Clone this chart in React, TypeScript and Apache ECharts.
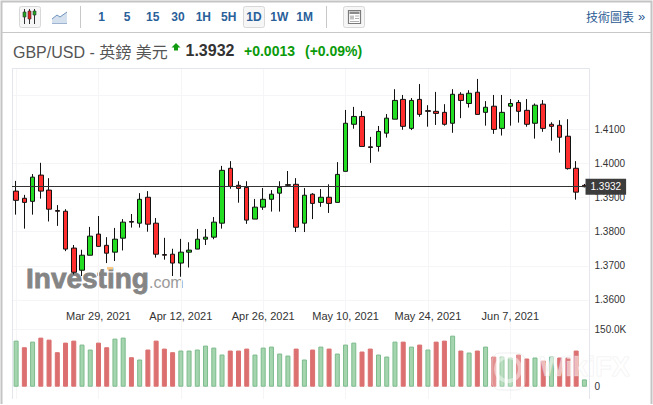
import React, { useEffect, useRef } from "react";
import * as echarts from "echarts";

const DATES = [
  "Mar 15, 2021","Mar 16, 2021","Mar 17, 2021","Mar 18, 2021","Mar 19, 2021",
  "Mar 22, 2021","Mar 23, 2021","Mar 24, 2021","Mar 25, 2021","Mar 26, 2021",
  "Mar 29, 2021","Mar 30, 2021","Mar 31, 2021","Apr 1, 2021","Apr 2, 2021",
  "Apr 5, 2021","Apr 6, 2021","Apr 7, 2021","Apr 8, 2021","Apr 9, 2021",
  "Apr 12, 2021","Apr 13, 2021","Apr 14, 2021","Apr 15, 2021","Apr 16, 2021",
  "Apr 19, 2021","Apr 20, 2021","Apr 21, 2021","Apr 22, 2021","Apr 23, 2021",
  "Apr 26, 2021","Apr 27, 2021","Apr 28, 2021","Apr 29, 2021","Apr 30, 2021",
  "May 3, 2021","May 4, 2021","May 5, 2021","May 6, 2021","May 7, 2021",
  "May 10, 2021","May 11, 2021","May 12, 2021","May 13, 2021","May 14, 2021",
  "May 17, 2021","May 18, 2021","May 19, 2021","May 20, 2021","May 21, 2021",
  "May 24, 2021","May 25, 2021","May 26, 2021","May 27, 2021","May 28, 2021",
  "May 31, 2021","Jun 1, 2021","Jun 2, 2021","Jun 3, 2021","Jun 4, 2021",
  "Jun 7, 2021","Jun 8, 2021","Jun 9, 2021","Jun 10, 2021","Jun 11, 2021",
  "Jun 14, 2021","Jun 15, 2021","Jun 16, 2021","Jun 17, 2021","Jun 18, 2021",
];

const OPENS = [
  1.3919,1.3898,1.3889,1.3966,1.3922,1.3862,1.3860,1.3752,1.3687,1.3731,
  1.3793,1.3760,1.3740,1.3781,1.3830,1.3825,1.3901,1.3825,1.3733,1.3734,
  1.3708,1.3740,1.3749,1.3778,1.3784,1.3825,1.3986,1.3936,1.3930,1.3837,
  1.3872,1.3895,1.3913,1.3938,1.3939,1.3825,1.3910,1.3886,1.3901,1.3886,
  1.3977,1.4115,1.4138,1.4049,1.4050,1.4089,1.4130,1.4188,1.4103,1.4188,
  1.4155,1.4153,1.4150,1.4118,1.4203,1.4176,1.4209,1.4150,1.4168,1.4103,
  1.4168,1.4179,1.4156,1.4118,1.4174,1.4115,1.4112,1.4080,1.3986,1.3936,
];
const CLOSES = [
  1.3892,1.3886,1.3960,1.3919,1.3866,1.3860,1.3749,1.3681,1.3731,1.3787,
  1.3757,1.3737,1.3778,1.3828,1.3828,1.3895,1.3822,1.3734,1.3731,1.3708,
  1.3740,1.3746,1.3778,1.3784,1.3828,1.3980,1.3933,1.3927,1.3834,1.3872,
  1.3895,1.3910,1.3930,1.3936,1.3813,1.3907,1.3883,1.3901,1.3883,1.3968,
  1.4118,1.4138,1.4050,1.4047,1.4094,1.4133,1.4185,1.4109,1.4185,1.4144,
  1.4153,1.4147,1.4115,1.4203,1.4185,1.4206,1.4144,1.4165,1.4100,1.4150,
  1.4176,1.4153,1.4115,1.4171,1.4103,1.4109,1.4077,1.3985,1.3916,1.3932,
];
const LOWS = [
  1.3850,1.3809,1.3850,1.3897,1.3830,1.3817,1.3743,1.3675,1.3670,1.3731,
  1.3756,1.3708,1.3714,1.3745,1.3812,1.3812,1.3800,1.3724,1.3718,1.3670,
  1.3668,1.3695,1.3749,1.3761,1.3778,1.3809,1.3926,1.3885,1.3823,1.3837,
  1.3864,1.3859,1.3859,1.3931,1.3799,1.3799,1.3837,1.3873,1.3855,1.3886,
  1.3977,1.4102,1.4050,1.4002,1.4035,1.4076,1.4130,1.4099,1.4098,1.4137,
  1.4108,1.4113,1.4111,1.4090,1.4133,1.4164,1.4144,1.4111,1.4087,1.4082,
  1.4111,1.4120,1.4108,1.4073,1.4093,1.4067,1.4032,1.3982,1.3894,1.3930,
];
const HIGHS = [
  1.3949,1.3908,1.3969,1.4002,1.3957,1.3878,1.3866,1.3761,1.3747,1.3814,
  1.3846,1.3784,1.3811,1.3837,1.3852,1.3913,1.3919,1.3840,1.3782,1.3750,
  1.3779,1.3769,1.3808,1.3808,1.3843,1.3993,1.4007,1.3948,1.3948,1.3896,
  1.3928,1.3922,1.3948,1.3978,1.3957,1.3928,1.3913,1.3925,1.3939,1.4004,
  1.4157,1.4166,1.4154,1.4078,1.4110,1.4145,1.4218,1.4201,1.4192,1.4233,
  1.4171,1.4210,1.4174,1.4218,1.4209,1.4215,1.4248,1.4183,1.4201,1.4201,
  1.4189,1.4186,1.4189,1.4176,1.4186,1.4121,1.4127,1.4130,1.4007,1.3940,
];
const VOLUMES_K = [
  119.8,102.6,117.2,127.6,122.4,89.7,114.6,119.8,109.5,96.6,
  114.6,102.6,125.0,127.6,76.7,70.7,96.6,119.8,99.1,89.7,
  94.0,94.0,96.6,106.9,101.7,83.6,94.0,94.0,99.1,83.6,
  101.7,104.3,86.2,81.0,99.1,70.7,96.6,104.3,99.1,86.2,
  109.5,114.6,91.4,99.1,83.6,78.4,117.2,117.2,104.3,109.5,
  96.6,117.2,119.8,132.7,94.0,88.8,94.0,104.3,78.4,78.4,
  75.9,83.6,73.3,75.9,68.1,78.4,75.9,75.9,94.0,19.0,
];
const VOLUME_UP = [
  1,0,1,0,0,0,0,0,1,1,
  0,0,1,1,0,1,0,0,0,0,
  1,1,1,1,1,1,0,0,0,1,
  1,1,1,1,0,1,0,1,0,1,
  1,1,0,0,1,1,1,0,1,0,
  1,0,0,1,0,1,0,1,0,1,
  1,0,0,1,0,1,0,0,0,1,
];
const LAST_PRICE = 1.3932;
const INTERVALS = ["1", "5", "15", "30", "1H", "5H", "1D", "1W", "1M"];

const SANS = '"Liberation Sans", Arial, sans-serif';
const CJK = '"Liberation Sans", "Noto Sans CJK TC", sans-serif';
const LEFT = 12;
const BAND = 8.236;
const PLOT_W = BAND * 70;

const txt = (text: string, x: number, y: number, font: string, fill: string, textAlign = "left", z = 20, extra: any = {}) => ({
  type: "text", x, y, z, silent: true,
  style: { text, font, fill, textAlign, textVerticalAlign: "middle", ...extra },
});
const rect = (x: number, y: number, width: number, height: number, style: any, z = 10, r = 0) => ({
  type: "rect", z, silent: true, shape: { x, y, width, height, r }, style,
});
const line = (x1: number, y1: number, x2: number, y2: number, stroke: string, lineWidth = 1, z = 10) => ({
  type: "line", z, silent: true, shape: { x1, y1, x2, y2 }, style: { stroke, lineWidth },
});

function buildGraphic() {
  const els: any[] = [];
  // frame
  els.push({ type: "polyline", z: 1, silent: true, shape: { points: [[1.5, 404], [1.5, 1.5], [651.5, 1.5], [651.5, 404]] }, style: { stroke: "#c4c4c4", lineWidth: 2, fill: "none" } });
  els.push(line(2, 32.5, 651, 32.5, "#c8c8c8"));
  els.push({ type: "polyline", z: 1, silent: true, shape: { points: [[12.5, 399], [12.5, 68.5], [589.5, 68.5], [589.5, 399]] }, style: { stroke: "#e3e6ec", lineWidth: 1, fill: "none" } });
  // toolbar buttons
  const btn = { fill: "#f6f6f6", stroke: "#d8d8d8", lineWidth: 1 };
  els.push(rect(19.5, 6.5, 21, 21, btn, 10, 2));
  els.push(rect(243.5, 6.5, 21, 21, btn, 10, 2));
  els.push(rect(343.5, 6.5, 21, 21, btn, 10, 2));
  els.push(line(80.5, 6, 80.5, 28, "#c8c8c8"));
  els.push(line(326.5, 6, 326.5, 28, "#c8c8c8"));
  // candle icon
  [[24.5, "#1fa51f", 12, 17], [29.5, "#e02020", 11, 19], [34.5, "#1fa51f", 11, 15]].forEach(([x, c, a, b]: any) => {
    els.push(line(x, 9, x, 24, "#333", 1, 11));
    els.push(rect(x - 1.5, a, 3, b - a, { fill: c, stroke: "#333", lineWidth: 0.6 }, 12));
  });
  // line icon
  els.push({ type: "polygon", z: 11, silent: true, shape: { points: [[52, 23], [52, 19], [57, 15], [60, 17], [67, 12], [67, 23]] }, style: { fill: "#d5e0ee" } });
  els.push({ type: "polyline", z: 12, silent: true, shape: { points: [[52, 19], [57, 15], [60, 17], [67, 12]] }, style: { stroke: "#6e92bd", lineWidth: 1, fill: "none" } });
  els.push(line(52, 23.5, 67, 23.5, "#9db4d0", 1, 12));
  // news icon
  els.push(rect(348.5, 10.5, 12, 13, { fill: "#fff", stroke: "#7a7a7a", lineWidth: 1.2 }, 11));
  els.push(rect(349.5, 11.5, 10, 2.5, { fill: "#8a8a8a" }, 12));
  els.push(rect(350, 15.5, 4, 4, { fill: "#c2c2c2" }, 12));
  els.push(line(355, 16, 359, 16, "#b0b0b0", 1, 12));
  els.push(line(355, 18.5, 359, 18.5, "#b0b0b0", 1, 12));
  els.push(line(350, 21.5, 359, 21.5, "#b0b0b0", 1, 12));
  // interval labels
  const xs = [101.7, 127, 152.7, 178, 203.3, 228.7, 254, 279.3, 304.7];
  INTERVALS.forEach((t, i) => els.push(txt(t, xs[i], 17, `bold 12px ${SANS}`, "#2a6099", "center")));
  els.push(txt("技術圖表", 586, 17.5, `12px ${CJK}`, "#2a5a94"));
  els.push(txt("»", 638, 16.5, `13px ${SANS}`, "#2a5a94"));
  // heading
  els.push(txt("GBP/USD - 英鎊 美元", 13, 52.5, `16px ${CJK}`, "#555555"));
  els.push({ type: "polygon", z: 20, silent: true, shape: { points: [[176, 43], [180.5, 47.5], [178, 47.5], [178, 50.5], [174, 50.5], [174, 47.5], [171.5, 47.5]] }, style: { fill: "#109a10" } });
  els.push(txt("1.3932", 185.5, 50.5, `bold 16px ${SANS}`, "#333333"));
  els.push(txt("+0.0013", 244, 51, `bold 14px ${SANS}`, "#0a9a0a"));
  els.push(txt("(+0.09%)", 305, 51, `bold 14px ${SANS}`, "#0a9a0a"));
  // Investing logo (below the marks)
  els.push(txt("Investing", 26, 278.5, `bold 28px ${SANS}`, "#858585", "left", 0, { stroke: "#858585", lineWidth: 0.8 }));
  els.push(txt(".com", 149, 282, `16px ${SANS}`, "#9a9a9a", "left", 0));
  els.push(rect(107, 266, 6, 3.5, { fill: "#fbcb85" }, 0));
  // WikiFX overlay (above the marks)
  els.push(rect(492, 353, 33, 37, { fill: "rgba(255,255,255,0.22)", stroke: "rgba(225,225,225,0.5)", lineWidth: 1 }, 30, 8));
  els.push({ type: "circle", z: 31, silent: true, shape: { cx: 508, cy: 369, r: 12 }, style: { fill: "none", stroke: "rgba(255,255,255,0.45)", lineWidth: 4 } });
  els.push(txt("WikiFX", 540, 366.5, `bold 27px ${SANS}`, "rgba(255,255,255,0.55)", "left", 31, { stroke: "rgba(215,215,215,0.35)", lineWidth: 1 }));
  return els;
}

const GRID_LINE = "#f5f5f7";

export default function App() {
  const ref = useRef<HTMLDivElement>(null);
  useEffect(() => {
    document.body.style.margin = "0";
    document.body.style.background = "#fff";
    const chart = echarts.init(ref.current!, null, { renderer: "svg" });
    const candles = OPENS.map((o, i) => [o, CLOSES[i], LOWS[i], HIGHS[i]]);
    const volumes = VOLUMES_K.map((v, i) => ({
      value: v,
      itemStyle: VOLUME_UP[i]
        ? { color: "#a5d5ae", borderColor: "#7cbb8c", borderWidth: 1 }
        : { color: "#dc7070", borderColor: "#dc7070", borderWidth: 1 },
    }));
    const hiddenX = { axisLine: { show: false }, axisTick: { show: false } };
    chart.setOption({
      animation: false,
      backgroundColor: "#ffffff",
      textStyle: { fontFamily: SANS },
      grid: [
        { left: LEFT, top: 68.5, width: PLOT_W, height: 231.4 },
        { left: LEFT, top: 329, width: PLOT_W, height: 57.7 },
        { left: LEFT + BAND / 2, top: 68.5, width: BAND * 69, height: 330.5 },
      ],
      xAxis: [
        {
          type: "category", gridIndex: 0, data: DATES, ...hiddenX,
          axisLabel: {
            interval: (i: number) => i > 0 && i % 10 === 0,
            color: "#333333", fontSize: 11, fontFamily: SANS, margin: 11,
          },
          splitLine: { show: false },
        },
        {
          type: "category", gridIndex: 1, data: DATES, ...hiddenX,
          axisLabel: { show: false }, splitLine: { show: false },
        },
        {
          type: "category", gridIndex: 2, data: DATES, boundaryGap: false, ...hiddenX,
          axisLabel: { show: false },
          splitLine: { show: true, interval: (i: number) => i % 10 === 0, lineStyle: { color: GRID_LINE, width: 1 } },
        },
      ],
      yAxis: [
        {
          type: "value", gridIndex: 0, position: "right", min: 1.36, max: 1.42786, interval: 0.01, scale: true,
          axisLine: { show: false }, axisTick: { show: false },
          axisLabel: {
            color: "#333333", fontSize: 10, fontFamily: SANS, margin: 6,
            formatter: (v: number) => (v > 1.415 ? "" : v.toFixed(4)),
          },
          splitLine: { show: true, lineStyle: { color: GRID_LINE, width: 1 } },
        },
        {
          type: "value", gridIndex: 1, position: "right", min: 0, max: 150, interval: 150,
          axisLine: { show: false }, axisTick: { show: false },
          axisLabel: {
            color: "#333333", fontSize: 10, fontFamily: SANS, margin: 6,
            formatter: (v: number) => (v === 0 ? "0" : v.toFixed(1) + "K"),
          },
          splitLine: { show: true, lineStyle: { color: GRID_LINE, width: 1 } },
        },
        { type: "value", gridIndex: 2, show: false, min: 0, max: 1, splitLine: { show: false } },
      ],
      series: [
        {
          type: "candlestick", xAxisIndex: 0, yAxisIndex: 0, data: candles, barWidth: 5,
          itemStyle: {
            color: "#22dd22", color0: "#ff2e2e",
            borderColor: "#111111", borderColor0: "#111111", borderWidth: 1,
          },
        },
        {
          type: "line", xAxisIndex: 0, yAxisIndex: 0, data: [], z: 3, showSymbol: false,
          markLine: {
            silent: true, symbol: "none", animation: false, precision: 4,
            lineStyle: { color: "#333333", width: 1, type: "solid" },
            label: {
              show: true, position: "end", distance: -3, formatter: LAST_PRICE.toFixed(4),
              color: "#ffffff", fontSize: 10, fontFamily: SANS,
              backgroundColor: "#3c3c3c", padding: [3, 5],
            },
            data: [{ yAxis: LAST_PRICE }],
          },
        },
        { type: "bar", xAxisIndex: 1, yAxisIndex: 1, data: volumes, barWidth: 5 },
      ],
      graphic: { elements: buildGraphic() },
    });
    return () => chart.dispose();
  }, []);
  return <div ref={ref} style={{ width: 653, height: 405 }} />;
}
